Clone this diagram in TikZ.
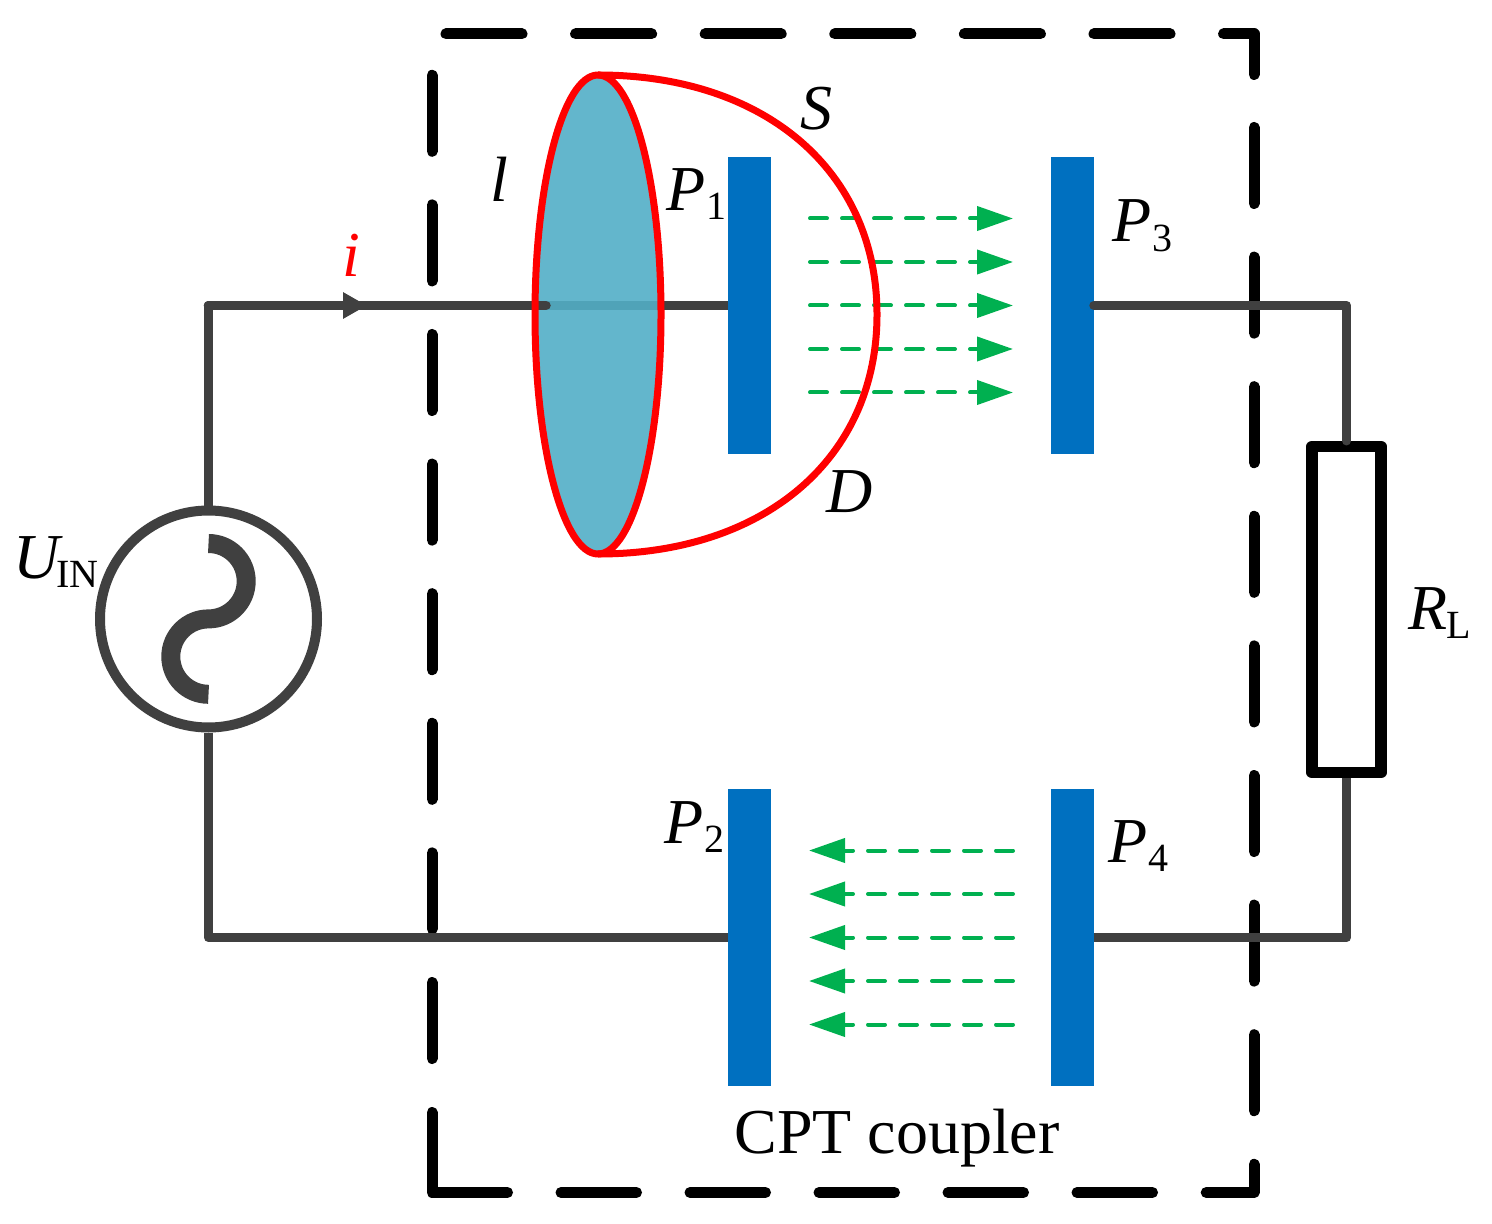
\documentclass[tikz,border=0pt]{standalone}
\usepackage{fontspec}
\setmainfont{Liberation Serif}
\usetikzlibrary{arrows.meta}
\usetikzlibrary{shapes.geometric}
\definecolor{Wire-gray}{RGB}{64,64,64}
\definecolor{Plate-blue}{RGB}{0,112,192}
\definecolor{Flux-green}{RGB}{0,176,80}
\definecolor{Lens-teal}{RGB}{82,174,198}
\newcommand{\lblsub}[2][0.3pt]{\kern#1\raisebox{-4.7pt}{\normalfont\fontsize{20}{20}\selectfont #2}}

\begin{document}
\begin{tikzpicture}[x=0.5pt, y=-0.5pt]
    \tikzset{ plate/.style={fill=Plate-blue, inner sep=0pt, outer sep=0pt, minimum width=21.5pt, minimum height=148.5pt} }
    \tikzset{ wire/.style={draw=Wire-gray, line width=4.75pt, line cap=round, line join=round} }
    \tikzset{ flux/.style={draw=Flux-green, line width=2pt, line cap=round, dash pattern=on 8.5pt off 7.5pt, -{Triangle[length=18pt, width=12pt]}} }
    \tikzset{ boxdash/.style={draw=black, line width=5.5pt, line cap=round, line join=round, dash pattern=on 38pt off 26.8pt} }
    \tikzset{ boxsolid/.style={draw=black, line width=5.5pt, line cap=round, line join=round} }
    \tikzset{ redline/.style={draw=red, line width=3.5pt, line join=round} }
    \tikzset{ lbl/.style={anchor=base west, inner sep=0pt, font=\fontsize{32}{32}\selectfont\itshape} }

    \useasboundingbox (0,0) rectangle (1492,1224);

    \draw[boxdash] (446,34) -- (1254,34) -- (1254,74.5);
    \draw[boxdash] (1254,127.5) -- (1254,1192.5) -- (1206,1192.5);
    \draw[boxdash, dash pattern=on 37.75pt off 26.75pt] (1152.5,1192.5) -- (560,1192.5);
    \draw[boxsolid] (507.5,1192.5) -- (432,1192.5) -- (432,1112.5);
    \draw[boxdash] (432,1058.5) -- (432,74.5);

    \node[plate] (p1) at (749.5,305.5) {};
    \node[plate] (p3) at (1072.5,305.5) {};
    \node[plate] (p2) at (749.5,937.5) {};
    \node[plate] (p4) at (1072.5,937.5) {};
    \node[circle, draw=Wire-gray, line width=5pt, inner sep=0pt, minimum size=108.5pt] (src) at (208.5,619) {};
    \node[rectangle, draw=black, line width=5.75pt, line join=round, inner sep=0pt, minimum width=34.5pt, minimum height=163pt] (rl) at (1346.5,609.5) {};

    \coordinate (wireend) at (546,305.5);
    \coordinate (itip) at (367,305.5);
    \coordinate (domeend) at (877,314.5);

    \draw[wire, line cap=butt] (src.north) |- (p1.west);
    \draw[wire, line cap=butt] (src.south) |- (p2.west);
    \draw[wire] (p3.east) -| (rl.north);
    \draw[wire, line cap=butt] (p4.east) -| (rl.south);

    \node[ellipse, fill=Lens-teal, fill opacity=0.9, inner sep=0pt, outer sep=0pt, minimum width=63pt, minimum height=239.5pt] (lensfill) at (598,314.5) {};
    \draw[wire] (src.north |- p1.west) -- (wireend);
    \draw[wire, -{Triangle[length=12pt, width=12.5pt]}] (src.north |- p1.west) -- (itip);

    \draw[wire, line width=9.5pt, line cap=butt, draw=Wire-gray] ([yshift=37.75pt]src.center) arc[start angle=90, end angle=-90, radius=18.85pt] arc[start angle=90, end angle=270, radius=18.85pt];

    \foreach \dy in {43.5pt, 21.75pt, 0pt, -21.75pt, -43.5pt} {
        \draw[flux] ([xshift=19.5pt, yshift=\dy]p1.east) -- ([xshift=-19pt, yshift=\dy]p3.west);
        \draw[flux] ([xshift=-19pt, yshift=\dy]p4.west) -- ([xshift=19pt, yshift=\dy]p2.east);
    }

    \node[ellipse, redline, inner sep=0pt, outer sep=0pt, minimum width=63pt, minimum height=239.5pt] (lens) at (598,314.5) {};
    \draw[redline] (lens.north) .. controls (765,75) and (877,171) .. (domeend) .. controls (877,458) and (765,554) .. (lens.south);

    \node[lbl] (lblL)  at (490,202)    {l};
    \node[lbl] (lblS)  at (800,129.5)  {S};
    \node[lbl] (lblD)  at (826,512)    {D};
    \node[lbl, text=red] (lblI) at (342,277) {i};
    \node[lbl] (lblP1) at (666,210.6)  {P\lblsub{1}};
    \node[lbl] (lblP3) at (1112,241.7) {P\lblsub{3}};
    \node[lbl] (lblP2) at (664,843)    {P\lblsub{2}};
    \node[lbl] (lblP4) at (1108,862)   {P\lblsub{4}};
    \node[lbl] (lblU)  at (13,578)     {U\lblsub[-1.5pt]{IN}};
    \node[lbl] (lblR)  at (1408,629)   {R\lblsub[-0.3pt]{L}};
    \node[lbl, font=\fontsize{32}{32}\selectfont\upshape] (lblC) at (734,1153) {CPT coupler};
\end{tikzpicture}
\end{document}
